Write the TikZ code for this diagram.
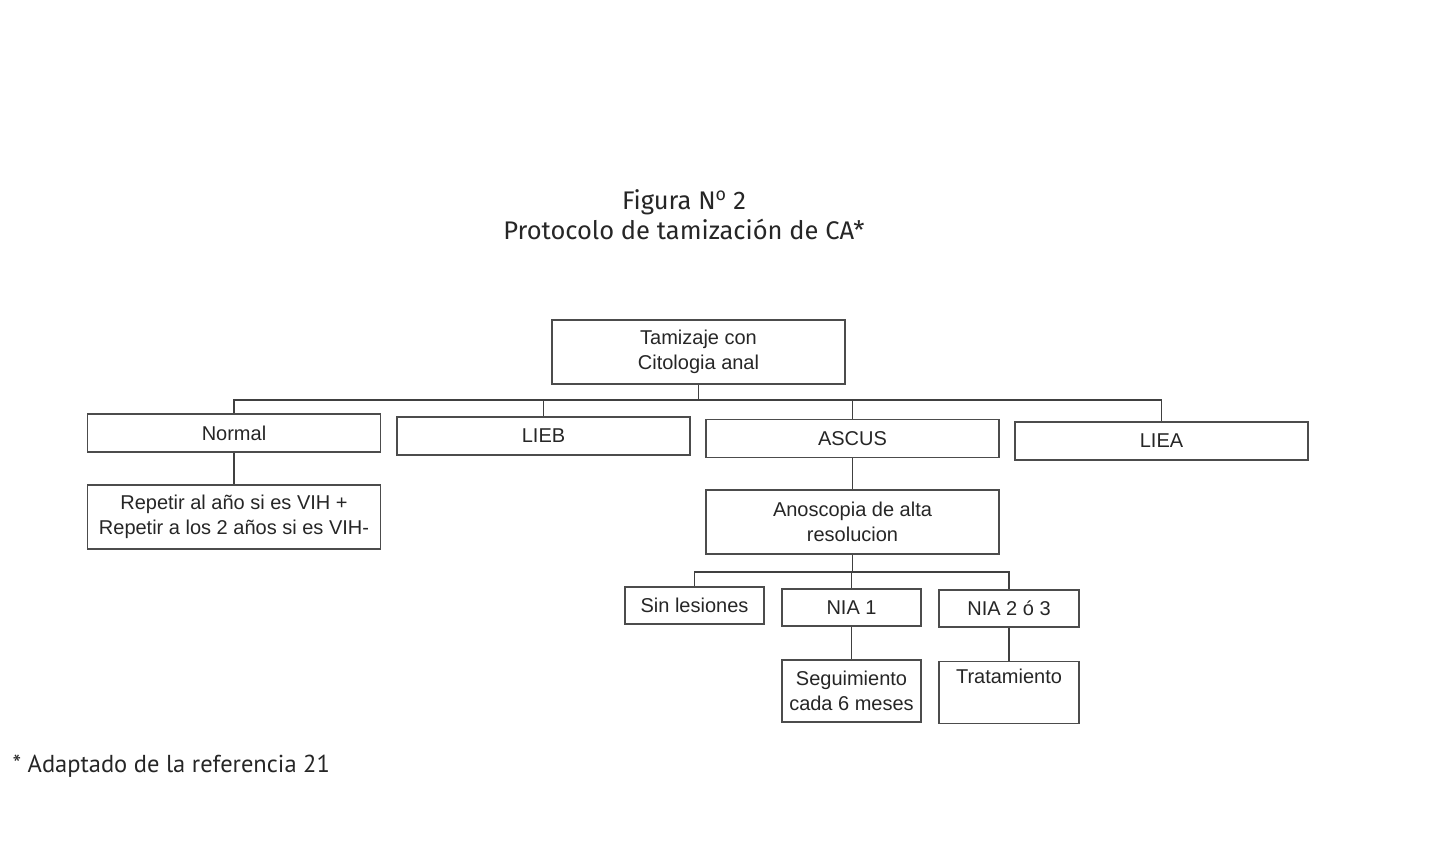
\documentclass[tikz,border=0pt]{standalone}
\usepackage{fontspec}
\setmainfont{Liberation Sans}
\newfontfamily\titlefont{Fira Sans}
\newfontfamily\notefont{PT Sans}
\usepackage{xcolor}
\usetikzlibrary{positioning}

\begin{document}
\begin{tikzpicture}[
    x=1pt, y=-1pt,
    box/.style={draw=black!70, line width=1.1pt, inner sep=2pt, align=center,
        font=\fontsize{20}{25}\selectfont, text=black!85},
    wide/.style={box, minimum width=293pt, minimum height=38pt},
    tall/.style={box, minimum width=293pt, minimum height=64pt},
    small/.style={box, minimum width=139pt, minimum height=37pt},
    smalltall/.style={box, minimum width=139pt, minimum height=62pt},
    link/.style={draw=black!75, line width=1.1pt}
]
\useasboundingbox (0,0) rectangle (1447,850);

% titulo
\node[font=\titlefont\fontsize{25.5}{30}\selectfont, text=black!85, align=center] (title) at (684,215)
    {Figura N\textsuperscript{o} 2\\Protocolo de tamizaci\'on de CA*};

% cajas
\node[tall] (top) at (698.5,352) {Tamizaje con\\Citologia anal};

\node[wide] (normal) at (234,433) {Normal};
\node[wide] (lieb) at (543.5,436) {LIEB};
\node[wide] (ascus) at (852.5,438.5) {ASCUS};
\node[wide] (liea) at (1161.5,441) {LIEA};

\node[tall] (repetir) at (234,517) {Repetir al a\~no si es VIH +\\Repetir a los 2 a\~nos si es VIH-};
\node[tall] (anosc) at (852.5,522) {Anoscopia de alta\\resolucion};

\node[small] (sin) at (694.5,605.5) {Sin lesiones};
\node[small] (nia1) at (851.5,607.5) {NIA 1};
\node[small, minimum width=140pt] (nia23) at (1009,608.5) {NIA 2 \'o 3};

\node[smalltall] (segui) at (851.5,691) {Seguimiento\\cada 6 meses};
\node[smalltall, minimum width=140pt] (trata) at (1009,692.5) {Tratamiento\\\strut};

% conectores
\coordinate (bus1) at (top.south |- 0,400);
\coordinate (bus2) at (anosc.south |- 0,572);

\draw[link] (top.south) -- (bus1);
\draw[link] (bus1) -| (normal.north);
\draw[link] (bus1) -| (lieb.north);
\draw[link] (bus1) -| (ascus.north);
\draw[link] (bus1) -| (liea.north);

\draw[link] (normal.south) -- (repetir.north);
\draw[link] (ascus.south) -- (anosc.north);

\draw[link] (anosc.south) -- (bus2);
\draw[link] (bus2) -| (sin.north);
\draw[link] (bus2) -| (nia1.north);
\draw[link] (bus2) -| (nia23.north);

\draw[link] (nia1.south) -- (segui.north);
\draw[link] (nia23.south) -- (trata.north);

% nota
\node[anchor=west, font=\notefont\fontsize{24.5}{28}\selectfont, text=black!85] (nota) at (9,766)
    {* Adaptado de la referencia 21};
\end{tikzpicture}
\end{document}
